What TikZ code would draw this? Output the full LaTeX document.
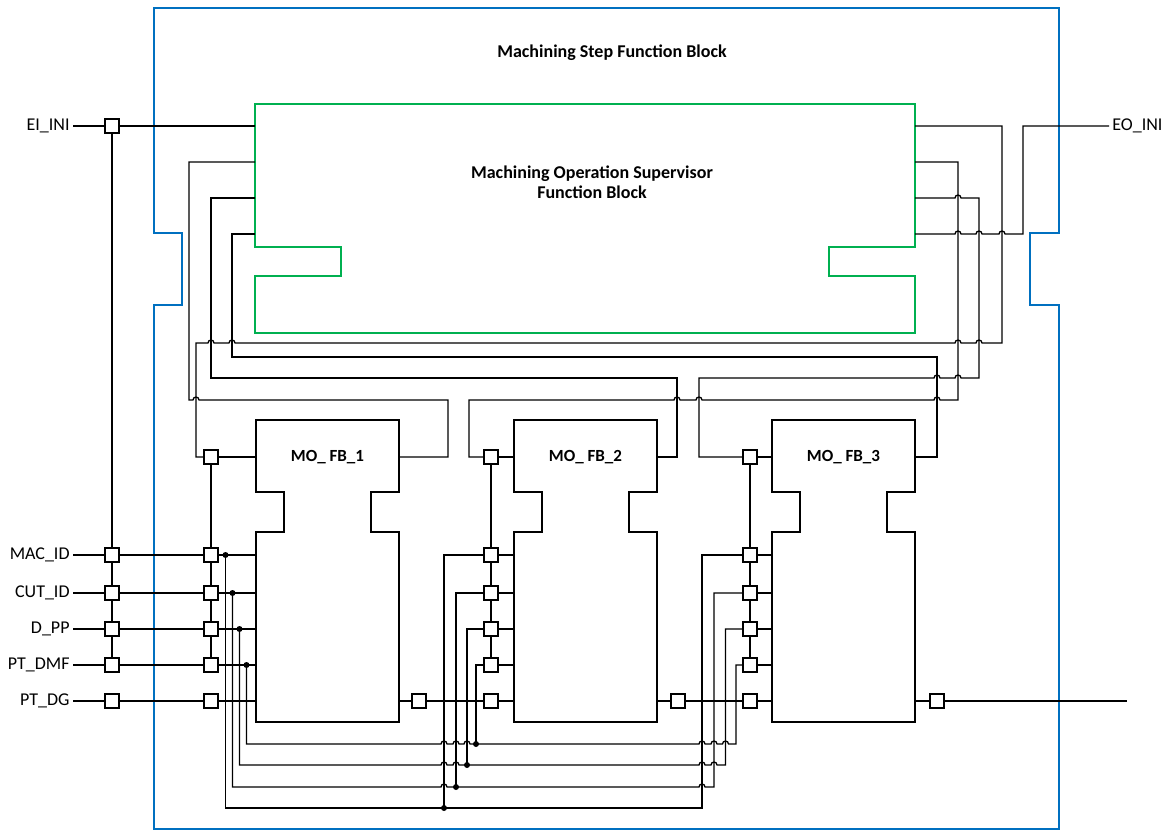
\documentclass[tikz,border=0pt]{standalone}
\usepackage{fontspec}
\setmainfont{Carlito}
\usepackage{xcolor}
\usepackage{tikz}

\definecolor{stepblue}{HTML}{0070C0}
\definecolor{supgreen}{HTML}{00B050}

% line jumps over a crossing wire
\newcommand{\hop}[2]{-- (#1-3,#2) arc[start angle=180, end angle=360, radius=3]}
\newcommand{\hopback}[2]{-- (#1+3,#2) arc[start angle=0, end angle=-180, radius=3]}

\begin{document}
\begin{tikzpicture}[
        x=0.5pt, y=-0.5pt,
        port/.style={draw, fill=white, line width=0.65pt, minimum size=7pt, inner sep=0pt},
        dot/.style={circle, fill, inner sep=0pt, minimum size=3pt},
        wire/.style={line width=0.65pt},
        fbox/.style={line width=1.1pt},
        sig/.style={font=\fontsize{9}{10}\selectfont, inner sep=1.5pt},
        fbname/.style={font=\bfseries\fontsize{8.5}{10}\selectfont},
        title/.style={font=\bfseries\fontsize{9}{10}\selectfont, align=center}
    ]
    \useasboundingbox (0,0) rectangle (1169,830);

    % Outer step block
    \draw[stepblue, line width=1pt] (154,829) -- (154,305) -- (182,305) -- (182,233) -- (154,233) -- (154,8)
        -- (1059,8) -- (1059,233) -- (1030,233) -- (1030,305) -- (1059,305) -- (1059,829) -- cycle;
    \node[title] (step) at (612,53) {Machining Step Function Block};

    % Supervisor block
    \draw[supgreen, line width=1.2pt] (255,104) -- (915,104) -- (915,247) -- (829,247) -- (829,276) -- (915,276)
        -- (915,333) -- (255,333) -- (255,276) -- (341,276) -- (341,247) -- (255,247) -- cycle;
    \node[title] (sup) at (592,182) {Machining Operation Supervisor\\Function Block};
    \foreach \i/\y in {1/126, 2/162, 3/198, 4/234} {
        \coordinate (sl\i) at (255,\y);
        \coordinate (sr\i) at (915,\y);
    }

    % MO blocks
    \foreach \k/\x in {1/256, 2/514, 3/772} {
        \draw[fbox] (\x,420) -- (\x+143,420) -- (\x+143,492) -- (\x+115,492) -- (\x+115,532) -- (\x+143,532)
            -- (\x+143,722) -- (\x,722) -- (\x,532) -- (\x+28,532) -- (\x+28,492) -- (\x,492) -- cycle;
        \node[fbname] (fb\k) at (\x+71.5,457) {MO\_ FB\_\k};
        \coordinate (fb\k-w) at (\x,0);
        \coordinate (fb\k-e) at (\x+143,0);
    }

    % Ports
    \node[sig, anchor=east] (ei-lbl) at (73,126) {EI\_INI};
    \node[sig, anchor=west] (eo-lbl) at (1109,126) {EO\_INI};
    \node[port] (ei) at (112,126) {};
    \node[port] (p1-ev) at (211,457) {};
    \node[port] (p2-ev) at (491,457) {};
    \node[port] (p3-ev) at (750,457) {};
    \foreach \n/\y/\lab in {mac/555/MAC\_ID, cut/593/CUT\_ID, dpp/629/D\_PP, dmf/665/PT\_DMF, dg/701/PT\_DG} {
        \node[sig, anchor=east] (\n-lbl) at (73,\y) {\lab};
        \node[port] (in-\n) at (112,\y) {};
        \node[port] (p1-\n) at (211,\y) {};
        \node[port] (p2-\n) at (491,\y) {};
        \node[port] (p3-\n) at (750,\y) {};
        \draw[wire] (\n-lbl) -- (in-\n);
        \draw[wire] (in-\n) -- (p1-\n);
        \draw[wire] (p1-\n) -- (fb1-w |- p1-\n);
        \draw[wire] (p2-\n) -- (fb2-w |- p2-\n);
        \draw[wire] (p3-\n) -- (fb3-w |- p3-\n);
    }
    \node[port] (o1) at (419,701) {};
    \node[port] (o2) at (678,701) {};
    \node[port] (o3) at (937,701) {};
    \coordinate (dg-end) at (1127,701);

    % Event chains
    \draw[wire] (ei-lbl) -- (ei);
    \draw[wire] (ei) -- (sl1);
    \draw[wire] (ei) -- (in-mac) -- (in-cut) -- (in-dpp) -- (in-dmf);
    \draw[wire] (p1-ev) -- (p1-mac) -- (p1-cut) -- (p1-dpp) -- (p1-dmf);
    \draw[wire] (p2-ev) -- (p2-mac) -- (p2-cut) -- (p2-dpp) -- (p2-dmf);
    \draw[wire] (p3-ev) -- (p3-mac) -- (p3-cut) -- (p3-dpp) -- (p3-dmf);
    \draw[wire] (p1-ev) -- (fb1-w |- fb1);
    \draw[wire] (p2-ev) -- (fb2-w |- fb2);
    \draw[wire] (p3-ev) -- (fb3-w |- fb3);

    % Supervisor <-> MO blocks
    \draw[wire] (p1-ev) -- (196,457) -- (196,343) \hop{211}{343} \hop{232}{343} \hop{958}{343} \hop{979}{343}
        -- (1002,343) -- (1002,126) -- (sr1);
    \draw[wire] (sl2) -- (189,162) -- (189,400) \hop{196}{400} -- (448,400) -- (448,457) -- (fb1-e |- fb1);
    \draw[wire] (sl3) -- (211,198) -- (211,378) -- (677,378) -- (677,457) -- (fb2-e |- fb2);
    \draw[wire] (sl4) -- (232,234) -- (232,357) -- (937,357) -- (937,457) -- (fb3-e |- fb3);
    \draw[wire] (p2-ev) -- (469,457) -- (469,400) \hop{677}{400} \hop{699}{400} \hop{937}{400}
        -- (958,400) -- (958,162) -- (sr2);
    \draw[wire] (sr3) \hop{958}{198} -- (979,198) -- (979,378) \hopback{958}{378} \hopback{937}{378}
        -- (699,378) -- (699,457) -- (p3-ev);
    \draw[wire] (sr4) \hop{958}{234} \hop{979}{234} \hop{1002}{234} -- (1023,234) -- (1023,126) -- (eo-lbl);

    % Data fan-out to MO_FB_2 and MO_FB_3
    \node[dot] (j1-mac) at (225.5,555) {};
    \node[dot] (j1-cut) at (232.5,593) {};
    \node[dot] (j1-dpp) at (239.5,629) {};
    \node[dot] (j1-dmf) at (246.5,665) {};
    \node[dot] (j2-mac) at (444,808) {};
    \node[dot] (j2-cut) at (456,787) {};
    \node[dot] (j2-dpp) at (467,765) {};
    \node[dot] (j2-dmf) at (476,744) {};
    \draw[wire] (j1-mac.center) -- (225.5,808) -- (702,808) -- (702,555) -- (p3-mac);
    \draw[wire] (j1-cut.center) -- (232.5,787) \hop{444}{787} \hop{702}{787} -- (714,787) -- (714,593) -- (p3-cut);
    \draw[wire] (j1-dpp.center) -- (239.5,765) \hop{444}{765} \hop{456}{765} \hop{702}{765} \hop{714}{765}
        -- (725.5,765) -- (725.5,629) -- (p3-dpp);
    \draw[wire] (j1-dmf.center) -- (246.5,744) \hop{444}{744} \hop{456}{744} \hop{467}{744} \hop{702}{744}
        \hop{714}{744} \hop{725.5}{744} -- (736,744) -- (736,665) -- (p3-dmf);
    \draw[wire] (j2-mac.center) -- (444,555) -- (p2-mac);
    \draw[wire] (j2-cut.center) -- (456,593) -- (p2-cut);
    \draw[wire] (j2-dpp.center) -- (467,629) -- (p2-dpp);
    \draw[wire] (j2-dmf.center) -- (476,665) -- (p2-dmf);

    % Data outputs
    \draw[wire] (fb1-e |- o1) -- (o1) -- (p2-dg);
    \draw[wire] (fb2-e |- o2) -- (o2) -- (p3-dg);
    \draw[wire] (fb3-e |- o3) -- (o3) -- (dg-end);

\end{tikzpicture}
\end{document}
